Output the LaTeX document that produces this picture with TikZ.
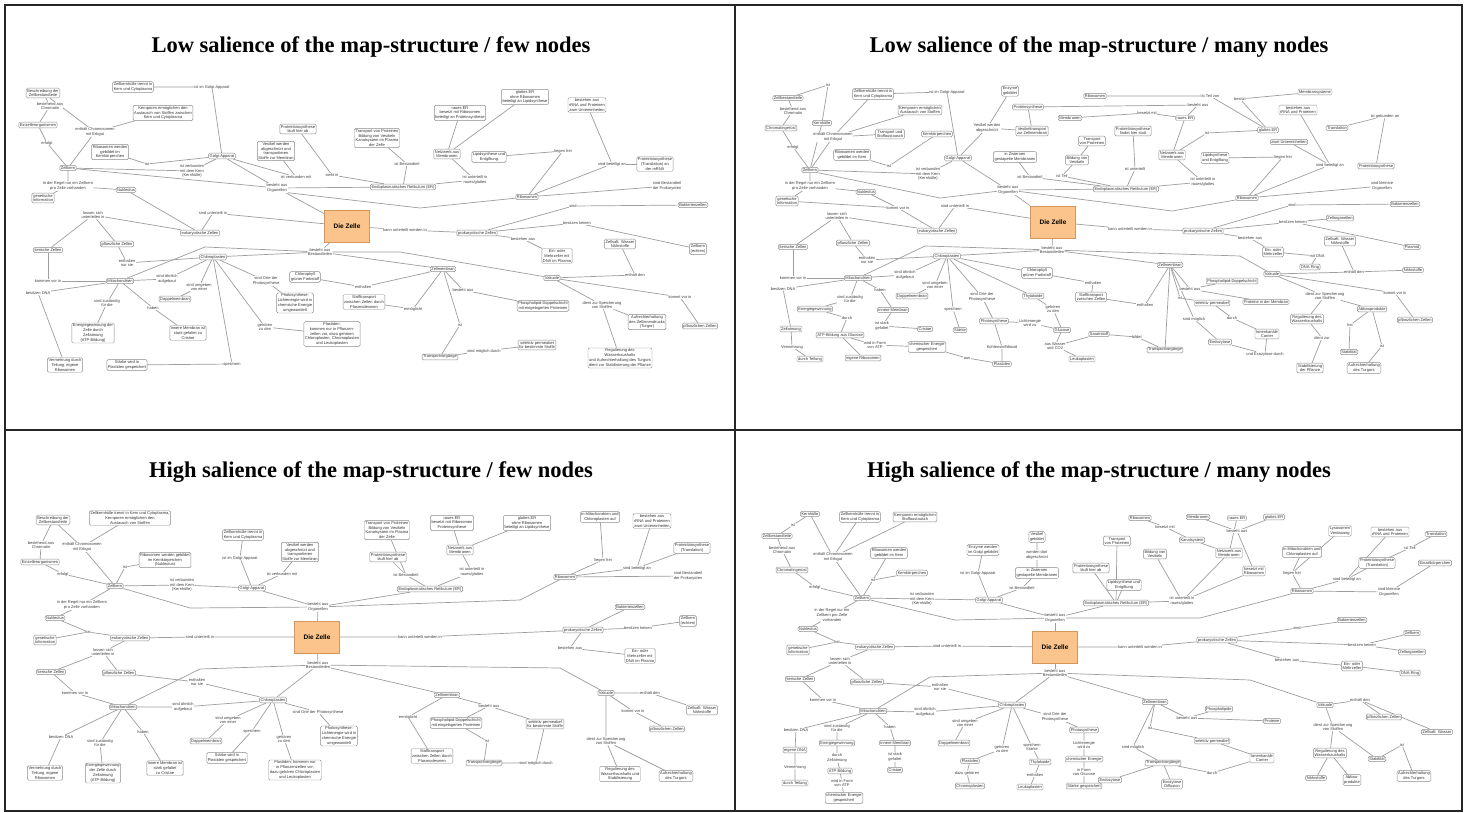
\documentclass[tikz,border=0pt]{standalone}
\usepackage{fontspec}
\newfontfamily\mapfamily{Liberation Sans}
\newfontfamily\ttlfamily{Liberation Serif}
\newcommand\cmfont{\mapfamily\fontsize{4.0}{4.7}\selectfont}
\newcommand\cmcore{\mapfamily\bfseries\fontsize{6.5}{7.5}\selectfont}
\newcommand\cmtitle{\ttlfamily\bfseries\fontsize{22.5}{25}\selectfont}
\definecolor{coreFill}{RGB}{250,196,140}
\definecolor{coreDraw}{RGB}{214,150,90}
\pgfdeclarelayer{paperlayer}
\pgfdeclarelayer{edgelayer}
\pgfsetlayers{paperlayer,edgelayer,main}
\tikzset{
 bx/.style={draw=black!45, line width=0.45pt, rounded corners=1.3pt, fill=white, inner sep=1.1pt, align=center, font=\cmfont, text=black!80},
 lb/.style={fill=white, inner sep=0.3pt, align=center, font=\cmfont, text=black!75},
 ln/.style={draw=black!38, line width=0.7pt},
 core/.style={draw=coreDraw, fill=coreFill, line width=0.6pt, minimum width=45pt, minimum height=32pt, font=\cmcore, inner sep=0pt},
 ttl/.style={font=\cmtitle, inner sep=0pt},
 frame/.style={draw=black!85, line width=1.2pt}
}
\newcommand\cmB[3]{\node[bx] (#1) at (#2) {#3};}
\newcommand\cmL[3]{\node[lb] (#1) at (#2) {#3};}
\begin{document}
\begin{tikzpicture}[x=1pt,y=-1pt]
\useasboundingbox (0,0) rectangle (1468,813);
\begin{pgfonlayer}{paperlayer}
\fill[white] (0,0) rectangle (1468,813);
\end{pgfonlayer}
\draw[frame] (5,5) rectangle (1462,811);
\draw[frame] (735,5) -- (735,811);
\draw[frame] (5,430) -- (1462,430);

% ================= PANEL 1 =================
\node[ttl] (t1) at (371,47) {Low salience of the map-structure / few nodes};
\cmB{a1}{43,93}{Beschreibung der\\Zellbestandteile}
\cmL{aL1}{50,106}{bestehend aus\\Chromatin}
\cmB{a2}{38,125}{Einzellerorganismen}
\cmL{aL2}{47,143}{erfolgt}
\cmB{aZK}{68,168}{Zellkern}
\cmL{aL3}{95,132}{enthält Chromosomen\\mit Erbgut}
\cmB{a4}{133,87}{Zellkernhülle trennt in\\Kern und Cytoplasma}
\cmL{aL4}{212,87}{ist im Golgi-Apparat}
\cmB{a5}{163,113}{Kernporen ermöglichen den\\Austausch von Stoffen zwischen\\Kern und Cytoplasma}
\cmB{a6}{110,152}{Ribosomen werden\\gebildet im\\Kernkörperchen}
\cmL{aL5}{147,164}{ist}
\cmB{aG}{222,156}{Golgi-Apparat}
\cmL{aL6}{192,171}{ist verbunden\\mit dem Kern\\(Kernhülle)}
\cmL{aL7}{68,186}{in der Regel nur ein Zellkern\\pro Zelle vorhanden}
\cmB{a8}{126,190}{Nukleolus}
\cmB{a9}{43,198}{genetische\\Information}
\cmB{a10}{298,129}{Proteinbiosynthese\\läuft hier ab}
\cmB{a11}{276,151}{Vesikel werden\\abgeschnürt und\\transportieren\\Stoffe zur Membran}
\cmB{a12}{377,138}{Transport von Proteinen\\Bildung von Vesikeln\\Kanalsystem im Plasma\\der Zelle}
\cmB{a13}{460,113}{raues ER\\besetzt mit Ribosomen\\beteiligt an Proteinsynthese}
\cmB{a14}{447,154}{Netzwerk aus\\Membranen}
\cmB{a15}{489,157}{Lipidsynthese und\\Entgiftung}
\cmB{aER}{403,187}{Endoplasmatisches Retikulum (ER)}
\cmL{aL8}{296,177}{ist verbunden mit}
\cmL{aL9}{332,175}{steht in}
\cmL{aL10}{407,164}{ist Bestandteil}
\cmL{aL11}{475,180}{ist unterteilt in\\raues/glattes}
\cmL{aL12}{277,188}{besteht aus\\Organellen}
\cmB{a16}{525,97}{glattes ER\\ohne Ribosomen\\beteiligt an Lipidsynthese}
\cmB{a17}{587,105}{bestehen aus\\rRNA und Proteinen\\zwei Untereinheiten}
\cmL{aL13}{563,151}{liegen frei}
\cmL{aL14}{612,164}{sind beteiligt an}
\cmB{a18}{655,164}{Proteinbiosynthese\\(Translation) an\\der mRNA}
\cmL{aL15}{667,186}{sind Bestandteil\\der Prokaryoten}
\cmB{aR}{527,197}{Ribosomen}
\cmB{a19}{693,205}{Bakterienzellen}
\cmL{aL16}{573,206}{sind}
\node[core] (aZ) at (347,226) {Die Zelle};
\cmL{aL17}{405,230}{kann unterteilt werden in}
\cmB{aP}{477,233}{prokaryotische Zellen}
\cmL{aL18}{577,223}{besitzen keinen}
\cmB{a20}{698,249}{Zellkern\\(echten)}
\cmL{aL19}{523,239}{bestehen aus}
\cmB{a21}{557,256}{Ein- oder\\Mehrzeller mit\\DNA im Plasma}
\cmB{a22}{620,244}{Zellsaft: Wasser\\Nährstoffe}
\cmL{aL20}{635,275}{enthält den}
\cmB{aV}{552,278}{Vakuole}
\cmL{aL21}{680,297}{kommt vor in}
\cmB{a23}{700,326}{pflanzlichen Zellen}
\cmL{aL22}{602,305}{dient zur Speicherung\\von Stoffen}
\cmB{a24}{543,306}{Phospholipid-Doppelschicht\\mit eingelagerten Proteinen}
\cmB{a25}{647,322}{Aufrechterhaltung\\des Zellinnendrucks\\(Turgor)}
\cmB{a26}{537,345}{selektiv permeabel\\für bestimmte Stoffe}
\cmB{a27}{620,358}{Regulierung des\\Wasserhaushalts\\und Aufrechterhaltung des Turgors\\dient zur Stabilisierung der Pflanze}
\cmL{aL25}{93,215}{lassen sich\\unterteilen in}
\cmL{aL26}{213,213}{sind unterteilt in}
\cmB{aE}{200,233}{eukaryotische Zellen}
\cmB{aT}{48,250}{tierische Zellen}
\cmB{aPf}{117,244}{pflanzliche Zellen}
\cmL{aL27}{127,263}{enthalten\\nur sie}
\cmB{aC}{213,257}{Chloroplasten}
\cmB{aM}{120,281}{Mitochondrien}
\cmL{aL28}{48,281}{kommen vor in}
\cmL{aL29}{38,293}{besitzen DNA}
\cmL{aL30}{167,279}{sind ähnlich\\aufgebaut}
\cmL{aL31}{199,287}{sind umgeben\\von einer}
\cmB{aD}{175,299}{Doppelmembran}
\cmL{aL32}{107,303}{sind zuständig\\für die}
\cmL{aL33}{153,308}{haben}
\cmB{a28}{93,333}{Energiegewinnung der\\Zelle durch\\Zellatmung\\(ATP-Bildung)}
\cmB{a29}{188,333}{innere Membran ist\\stark gefaltet zu\\Cristae}
\cmB{a30}{65,365}{Vermehrung durch\\Teilung, eigene\\Ribosomen}
\cmB{a31}{127,365}{Stärke wird in\\Plastiden gespeichert}
\cmL{aL34}{232,364}{speichern}
\cmL{aL35}{320,252}{besteht aus\\Bestandteilen}
\cmB{a32}{305,277}{Chlorophyll\\grüner Farbstoff}
\cmL{aL36}{363,287}{enthalten}
\cmL{aL37}{266,281}{sind Orte der\\Photosynthese}
\cmB{a33}{295,303}{Photosynthese:\\Lichtenergie wird in\\chemische Energie\\umgewandelt}
\cmB{a34}{364,302}{Stofftransport\\zwischen Zellen durch\\Plasmodesmen}
\cmL{aL38}{413,309}{ermöglicht}
\cmB{a35}{332,334}{Plastiden:\\kommen nur in Pflanzen-\\zellen vor, dazu gehören\\Chloroplasten, Chromoplasten\\und Leukoplasten}
\cmL{aL39}{265,327}{gehören\\zu den}
\cmB{aZM}{443,269}{Zellmembran}
\cmL{aL40}{463,290}{besteht aus}
\cmL{aL41}{460,325}{ist}
\cmB{a36}{440,357}{Transportvorgänge}
\cmL{aL42}{484,351}{sind möglich durch}
\begin{pgfonlayer}{edgelayer}
\draw[ln] (aZ)--(aL12);
\draw[ln] (aL12)--(aZK);
\draw[ln] (aL12)--(aG);
\draw[ln] (aL12)--(aER);
\draw[ln] (aL12.south east)--(420,208)--(aR);
\draw[ln] (aZK)--(aL2)--(a2)--(aL1)--(a1);
\draw[ln] (a1)--(aL3)--(aZK); \draw[ln] (aL3)--(a5);
\draw[ln] (a6)--(aL5)--(aG);
\draw[ln] (a4)--(aL4)--(aG);
\draw[ln] (aZK)--(aL6)--(aG);
\draw[ln] (aZK)--(aL7)--(a8); \draw[ln] (aL7)--(a9);
\draw[ln] (a8)--(aE);
\draw[ln] (aG)--(aL8)--(a11);
\draw[ln] (a10)--(aL9)--(aER);
\draw[ln] (a12)--(aL10)--(aER);
\draw[ln] (aER)--(aL11)--(a14)--(a13); \draw[ln] (a14)--(a16);
\draw[ln] (aR)--(aL13)--(a15);
\draw[ln] (aR)--(aL14)--(a17); \draw[ln] (aL14)--(a18); \draw[ln] (aR)--(aL15);
\draw[ln] (aZ)--(aL17)--(aP);
\draw[ln] (aP)--(aL16)--(a19);
\draw[ln] (aP)--(aL18)--(a20);
\draw[ln] (aP)--(aL19)--(a21);
\draw[ln] (aZ)--(aL35);
\draw[ln] (aL35)--(aC); \draw[ln] (aL35)--(aZM);
\draw[ln] (aL35)--(400,252)--(aV);
\draw[ln] (aL35)--(205,247)--(aM);
\draw[ln] (aE)--(aL25)--(aT); \draw[ln] (aL25)--(aPf);
\draw[ln] (aZ)--(aL26)--(aE);
\draw[ln] (aPf)--(aL27)--(aC);
\draw[ln] (aT)--(aL28)--(aM);
\draw[ln] (aM)--(aL29)--(a30);
\draw[ln] (aM)--(aL32)--(a28);
\draw[ln] (aM)--(aL33)--(a29);
\draw[ln] (aC)--(aL30)--(aM);
\draw[ln] (aC)--(aL31)--(aD);
\draw[ln] (aC)--(aL37)--(a33);
\draw[ln] (aC)--(aL39)--(a35);
\draw[ln] (aC)--(aL34)--(a31);
\draw[ln] (a32)--(aL36)--(aZM);
\draw[ln] (aZM)--(aL38)--(a34);
\draw[ln] (aZM)--(aL41)--(a36)--(aL42)--(a26);
\draw[ln] (aZM)--(aL40)--(a24);
\draw[ln] (aV)--(aL20)--(a22);
\draw[ln] (aV)--(aL21)--(a23);
\draw[ln] (aV)--(aL22)--(a25); \draw[ln] (aL22)--(a27);
\end{pgfonlayer}

% ================= PANEL 2 =================
\node[ttl] (t2) at (1099,47) {Low salience of the map-structure / many nodes};
\cmL{bq}{828,85}{ist}
\cmB{b1}{788,98}{Zellbestandteile}
\cmL{bL1}{793,111}{bestehend aus\\Chromatin}
\cmB{b2}{781,128}{Chromatingerüst}
\cmB{b3}{822,123}{Kernhülle}
\cmL{bL2}{793,147}{erfolgt}
\cmL{bL3}{833,137}{enthält Chromosomen\\mit Erbgut}
\cmB{b4}{873,94}{Zellkernhülle trennt in\\Kern und Cytoplasma}
\cmL{bL4}{947,92}{ist im Golgi-Apparat}
\cmB{b5}{920,110}{Kernporen ermöglichen\\Austausch von Stoffen}
\cmB{b6}{890,134}{Transport und\\Stoffaustausch}
\cmB{b7}{937,134}{Kernkörperchen}
\cmB{b8}{852,155}{Ribosomen werden\\gebildet im Kern}
\cmL{bL5}{889,166}{ist}
\cmB{bZK}{810,170}{Zellkern}
\cmB{bG}{958,158}{Golgi-Apparat}
\cmL{bL6}{928,174}{ist verbunden\\mit dem Kern\\(Kernhülle)}
\cmL{bL7}{810,186}{in der Regel nur ein Zellkern\\pro Zelle vorhanden}
\cmB{b9}{866,192}{Nukleolus}
\cmB{b10}{787,201}{genetische\\Information}
\cmL{bL8}{837,216}{lassen sich\\unterteilen in}
\cmL{bL9}{898,208}{kommt vor in}
\cmL{bL10}{955,206}{sind unterteilt in}
\cmB{bE}{937,231}{eukaryotische Zellen}
\cmB{bT}{793,247}{tierische Zellen}
\cmB{bPf}{853,243}{pflanzliche Zellen}
\node[core] (bZ) at (1053,222) {Die Zelle};
\cmL{bL11}{1008,190}{besteht aus\\Organellen}
\cmB{b11}{1010,91}{Enzyme\\gebildet}
\cmB{b12}{1028,107}{Proteinsynthese}
\cmB{b13}{1070,118}{Membranen}
\cmL{bL12}{987,128}{Vesikel werden\\abgeschnürt}
\cmB{b14}{1032,131}{Vesikeltransport\\zur Zellmembran}
\cmB{b15}{1015,157}{in Zisternen\\gestapelte Membranen}
\cmL{bL13}{1030,177}{ist Bestandteil}
\cmB{b16}{1092,141}{Transport\\von Proteinen}
\cmB{b17}{1077,160}{Bildung von\\Vesikeln}
\cmL{bL14}{1062,176}{ist Teil}
\cmL{bL15}{1052,250}{besteht aus\\Bestandteilen}
\cmB{bR0}{1095,96}{Ribosomen}
\cmL{bL16}{1210,96}{ist Teil von}
\cmL{bL17}{1240,99}{besitzt}
\cmB{b18}{1315,92}{Membransysteme}
\cmL{bL18}{1198,105}{besteht aus}
\cmL{bL19}{1147,113}{besetzt mit}
\cmB{b19}{1185,118}{raues ER}
\cmB{b20}{1133,131}{Proteinbiosynthese\\findet hier statt}
\cmB{b21}{1268,130}{glattes ER}
\cmB{b22}{1298,110}{bestehen aus\\rRNA und Proteinen}
\cmB{b23}{1289,142}{zwei Untereinheiten}
\cmL{bL20}{1207,133}{ist}
\cmB{b24}{1172,155}{Netzwerk aus\\Membranen}
\cmB{b25}{1215,158}{Lipidsynthese\\und Entgiftung}
\cmL{bL21}{1283,157}{liegen frei}
\cmL{bL22}{1135,169}{ist unterteilt}
\cmL{bL23}{1330,165}{sind beteiligt an}
\cmB{b26}{1337,128}{Translation}
\cmL{bL24}{1385,116}{ist gebunden an}
\cmB{b27}{1376,166}{Proteinbiosynthese}
\cmL{bL25}{1203,182}{ist unterteilt in\\raues/glattes}
\cmB{bER}{1126,189}{Endoplasmatisches Retikulum (ER)}
\cmL{bL26}{1382,186}{sind kleinste\\Organellen}
\cmB{bR}{1247,198}{Ribosomen}
\cmL{bL27}{1292,205}{sind}
\cmB{b28}{1405,204}{Bakterienzellen}
\cmL{bL28}{1130,229}{kann unterteilt werden in}
\cmB{bP}{1203,231}{prokaryotische Zellen}
\cmL{bL29}{1293,222}{besitzen keinen}
\cmB{b29}{1340,218}{Zellorganellen}
\cmB{b30}{1412,247}{Plasmid}
\cmL{bL30}{1250,238}{bestehen aus}
\cmB{b31}{1273,252}{Ein- oder\\Mehrzeller}
\cmB{b32}{1340,241}{Zellsaft: Wasser\\Nährstoffe}
\cmL{bL31}{1317,256}{mit DNA}
\cmB{b33}{1310,267}{DNA-Ring}
\cmB{bV}{1272,274}{Vakuole}
\cmL{bL32}{1354,272}{enthält den}
\cmB{b34}{1413,270}{Nährstoffe}
\cmB{bZM}{1170,265}{Zellmembran}
\cmB{b35}{1232,281}{Phospholipid-Doppelschicht}
\cmL{bL33}{1190,289}{besteht aus}
\cmL{bL34}{1180,298}{ist}
\cmB{b36}{1212,303}{selektiv permeabel}
\cmB{b37}{1266,302}{Proteine in der Membran}
\cmL{bL35}{1325,296}{dient zur Speicherung\\von Stoffen}
\cmL{bL36}{1395,293}{kommt vor in}
\cmB{b38}{1372,309}{Abbauprodukte}
\cmB{b39}{1307,319}{Regulierung des\\Wasserhaushalts}
\cmB{b40}{1415,320}{pflanzlichen Zellen}
\cmL{bL37}{1145,305}{enthalten}
\cmL{bL38}{1194,319}{sind möglich}
\cmL{bL39}{1232,318}{durch}
\cmB{b41}{1267,334}{Ionenkanäle\\Carrier}
\cmL{bL40}{1350,325}{hat}
\cmL{bL41}{1382,346}{ist}
\cmL{bL42}{1137,337}{bildet}
\cmB{b42}{1165,350}{Transportvorgänge}
\cmB{b43}{1220,342}{Endozytose}
\cmL{bL43}{1265,354}{und Exozytose durch}
\cmL{bL44}{1322,338}{dient zur}
\cmB{b44}{1349,352}{Stabilität}
\cmB{b45}{1310,368}{Stabilisierung\\der Pflanze}
\cmB{b46}{1364,368}{Aufrechterhaltung\\des Turgors}
\cmL{bL45}{867,260}{enthalten\\nur sie}
\cmB{bC}{947,256}{Chloroplasten}
\cmB{bM}{858,278}{Mitochondrien}
\cmL{bL46}{793,278}{kommen vor in}
\cmL{bL47}{783,289}{besitzen DNA}
\cmL{bL48}{905,275}{sind ähnlich\\aufgebaut}
\cmL{bL49}{935,285}{sind umgeben\\von einer}
\cmB{bD}{912,296}{Doppelmembran}
\cmL{bL50}{850,299}{sind zuständig\\für die}
\cmL{bL51}{880,290}{haben}
\cmB{b47}{815,309}{Energiegewinnung}
\cmB{b48}{893,310}{innere Membran}
\cmL{bL52}{953,309}{speichern}
\cmL{bL53}{982,297}{sind Orte der\\Photosynthese}
\cmB{b49}{1033,296}{Thylakoide}
\cmB{b50}{1037,273}{Chlorophyll\\grüner Farbstoff}
\cmL{bL54}{1093,283}{enthalten}
\cmL{bL55}{1053,309}{gehören\\zu den}
\cmB{b51}{1091,297}{Stofftransport\\zwischen Zellen}
\cmL{bL56}{847,318}{durch}
\cmL{bL57}{882,326}{ist stark\\gefaltet}
\cmB{b52}{925,329}{Cristae}
\cmB{b53}{791,329}{Zellatmung}
\cmB{b54}{840,335}{ATP-Bildung aus Glucose}
\cmB{b55}{960,330}{Stärke}
\cmB{b56}{994,321}{Photosynthese}
\cmL{bL58}{1030,323}{Lichtenergie\\wird zu}
\cmB{b57}{1062,330}{Glucose}
\cmL{bL59}{875,345}{wird in Form\\von ATP}
\cmB{b58}{927,347}{chemischer Energie\\gespeichert}
\cmL{bL60}{792,347}{Vermehrung}
\cmL{bL61}{1002,347}{Kohlenstoffdioxid}
\cmL{bL62}{1055,346}{aus Wasser\\und CO2}
\cmB{b59}{1099,334}{Sauerstoff}
\cmB{b60}{810,359}{durch Teilung}
\cmB{b61}{863,358}{eigene Ribosomen}
\cmL{bL63}{967,358}{aus}
\cmB{b62}{1002,364}{Plastiden}
\cmB{b63}{1082,359}{Leukoplasten}
\begin{pgfonlayer}{edgelayer}
\draw[ln] (b1)--(bq)--(b3)--(bZK);
\draw[ln] (bZK)--(bL2)--(b2)--(bL1)--(b1);
\draw[ln] (bZK)--(bL3)--(b4); \draw[ln] (bL3)--(b6); \draw[ln] (bL3)--(b5);
\draw[ln] (b4)--(bL4)--(bG);
\draw[ln] (b8)--(bL5)--(b7);
\draw[ln] (bZK)--(bL6)--(bG);
\draw[ln] (bZK)--(bL7)--(b9); \draw[ln] (bL7)--(b10);
\draw[ln] (b10)--(bL9)--(bE); \draw[ln] (b9)--(bL9);
\draw[ln] (bT)--(bL8)--(bPf); \draw[ln] (bL8)--(bE);
\draw[ln] (bE)--(bL10)--(bZ);
\draw[ln] (bZ)--(bL11);
\draw[ln] (bZK.south east)--(940,198)--(bL11);
\draw[ln] (bL11)--(bG);
\draw[ln] (bL11)--(bER);
\draw[ln] (bL11)--(1172,211)--(bR);
\draw[ln] (b11)--(bL12)--(bG);
\draw[ln] (b15)--(bL13)--(bER);
\draw[ln] (b12)--(b14)--(bL12);
\draw[ln] (b17)--(bL14)--(bER); \draw[ln] (b16)--(b17);
\draw[ln] (b12)--(bL18)--(b19);
\draw[ln] (bR0)--(bL16)--(b21);
\draw[ln] (b18)--(bL17)--(b21);
\draw[ln] (b13)--(bL19)--(b19);
\draw[ln] (b19)--(b24)--(bL20)--(b21);
\draw[ln] (b20)--(bL22)--(bER);
\draw[ln] (bER)--(bL25)--(b24);
\draw[ln] (b25)--(bL21)--(bR);
\draw[ln] (b22)--(bL23); \draw[ln] (b23)--(bL23)--(bR);
\draw[ln] (b26)--(bL24)--(b27);
\draw[ln] (bR)--(bL26);
\draw[ln] (bZ)--(bL28)--(bP);
\draw[ln] (bP)--(bL27)--(b28);
\draw[ln] (bP)--(bL29)--(b29); \draw[ln] (bL29)--(b30);
\draw[ln] (bP)--(bL30)--(b31)--(bL31)--(b33);
\draw[ln] (b32)--(bL32); \draw[ln] (bV)--(bL32)--(b34);
\draw[ln] (bV)--(bL36)--(b40);
\draw[ln] (bV)--(bL35)--(b39); \draw[ln] (bL35)--(b38);
\draw[ln] (b39)--(bL44)--(b45);
\draw[ln] (b38)--(bL40)--(b44); \draw[ln] (b38)--(bL41)--(b46);
\draw[ln] (bZ)--(bL15);
\draw[ln] (bL15)--(1240,256)--(bV);
\draw[ln] (bL15)--(bZM);
\draw[ln] (bZM)--(bL33)--(b35); \draw[ln] (bL33)--(b37);
\draw[ln] (bZM)--(bL34)--(b36);
\draw[ln] (bZM)--(bL37); \draw[ln] (bZM)--(b42);
\draw[ln] (bZM)--(bL38)--(b43);
\draw[ln] (b36)--(bL39)--(b41);
\draw[ln] (b43)--(bL43)--(b41);
\draw[ln] (b59)--(bL42)--(b42);
\draw[ln] (bL37)--(b51);
\draw[ln] (bL15)--(bC);
\draw[ln] (bL15)--(925,246)--(bM);
\draw[ln] (bPf)--(bL45)--(bC);
\draw[ln] (bT)--(bL46)--(bM);
\draw[ln] (bM)--(bL47)--(b53);
\draw[ln] (b53)--(bL60)--(b60);
\draw[ln] (bM)--(bL50)--(b47)--(bL56)--(b54);
\draw[ln] (bM)--(bL51)--(b48)--(bL57)--(b52);
\draw[ln] (b54)--(bL59)--(b58);
\draw[ln] (bM)--(bL48)--(bC);
\draw[ln] (bC)--(bL49)--(bD);
\draw[ln] (bC)--(bL52)--(b55);
\draw[ln] (bC)--(bL53)--(b56);
\draw[ln] (bC)--(b49);
\draw[ln] (bC)--(b50)--(bL54)--(b51);
\draw[ln] (b49)--(bL55)--(b57);
\draw[ln] (b56)--(bL58)--(b57);
\draw[ln] (b56)--(bL61)--(b62);
\draw[ln] (b58)--(bL63)--(b62);
\draw[ln] (b54)--(b61);
\draw[ln] (b57)--(bL62)--(b63); \draw[ln] (bL62)--(b59);
\end{pgfonlayer}

% ================= PANEL 3 =================
\node[ttl] (t3) at (371,472) {High salience of the map-structure / few nodes};
\cmB{c1}{53,520}{Beschreibung der\\Zellbestandteile}
\cmB{c2}{130,518}{Zellkernhülle trennt in Kern und Cytoplasma,\\Kernporen ermöglichen den\\Austausch von Stoffen}
\cmL{cL1}{41,545}{bestehend aus\\Chromatin}
\cmL{cL2}{82,547}{enthält Chromosomen\\mit Erbgut}
\cmB{c3}{40,562}{Einzellerorganismen}
\cmB{c4}{165,560}{Ribosomen werden gebildet\\im Kernkörperchen\\(Nukleolus)}
\cmL{cL3}{125,567}{ist}
\cmL{cL4}{63,574}{erfolgt}
\cmB{cZK}{115,586}{Zellkern}
\cmL{cL5}{182,585}{ist verbunden\\mit dem Kern\\(Kernhülle)}
\cmB{cG}{252,588}{Golgi-Apparat}
\cmB{c5}{243,535}{Zellkernhülle trennt in\\Kern und Cytoplasma}
\cmL{cL6}{240,558}{ist im Golgi-Apparat}
\cmB{c6}{300,552}{Vesikel werden\\abgeschnürt und\\transportieren\\Stoffe zur Membran}
\cmL{cL7}{282,574}{ist verbunden mit}
\cmL{cL8}{82,605}{in der Regel nur ein Zellkern\\pro Zelle vorhanden}
\cmL{cL9}{318,607}{besteht aus\\Organellen}
\cmB{c7}{55,618}{Nukleolus}
\cmB{c8}{45,640}{genetische\\Information}
\cmL{cL10}{88,632}{hat}
\cmB{cE}{130,638}{eukaryotische Zellen}
\cmL{cL11}{200,637}{sind unterteilt in}
\node[core] (cZ) at (317,637) {Die Zelle};
\cmL{cL12}{103,652}{lassen sich\\unterteilen in}
\cmB{cT}{51,672}{tierische Zellen}
\cmB{cPf}{119,673}{pflanzliche Zellen}
\cmL{cL13}{197,682}{enthalten\\nur sie}
\cmL{cL14}{318,665}{besteht aus\\Bestandteilen}
\cmL{cL15}{75,693}{kommen vor in}
\cmB{cM}{123,707}{Mitochondrien}
\cmL{cL16}{183,707}{sind ähnlich\\aufgebaut}
\cmB{cC}{273,700}{Chloroplasten}
\cmL{cL17}{228,720}{sind umgeben\\von einer}
\cmL{cL18}{318,712}{sind Orte der Photosynthese}
\cmL{cL19}{61,737}{besitzen DNA}
\cmL{cL20}{100,743}{sind zuständig\\für die}
\cmL{cL21}{143,732}{haben}
\cmL{cL22}{252,731}{speichern}
\cmL{cL23}{284,739}{gehören\\zu den}
\cmB{cD}{206,741}{Doppelmembran}
\cmB{c9}{339,736}{Photosynthese:\\Lichtenergie wird in\\chemische Energie\\umgewandelt}
\cmB{c10}{227,758}{Stärke wird in\\Plastiden gespeichert}
\cmB{c11}{45,773}{Vermehrung durch\\Teilung, eigene\\Ribosomen}
\cmB{c12}{103,773}{Energiegewinnung\\der Zelle durch\\Zellatmung\\(ATP-Bildung)}
\cmB{c13}{165,768}{innere Membran ist\\stark gefaltet\\zu Cristae}
\cmB{c14}{295,770}{Plastiden: kommen nur\\in Pflanzenzellen vor,\\dazu gehören Chloroplasten\\und Leukoplasten}
\cmB{c15}{387,530}{Transport von Proteinen\\Bildung von Vesikeln\\Kanalsystem im Plasma\\der Zelle}
\cmB{c16}{452,523}{raues ER\\besetzt mit Ribosomen\\Proteinsynthese}
\cmB{c17}{527,523}{glattes ER\\ohne Ribosomen\\beteiligt an Lipidsynthese}
\cmB{c18}{600,517}{in Mitochondrien und\\Chloroplasten auf}
\cmB{c19}{652,521}{bestehen aus\\rRNA und Proteinen\\zwei Untereinheiten}
\cmB{c20}{692,548}{Proteinbiosynthese\\(Translation)}
\cmB{c21}{460,550}{Netzwerk aus\\Membranen}
\cmB{c22}{388,557}{Proteinbiosynthese\\läuft hier ab}
\cmL{cLa}{406,575}{ist Bestandteil}
\cmL{cLb}{472,572}{ist unterteilt in\\raues/glattes}
\cmB{cER}{430,589}{Endoplasmatisches Retikulum (ER)}
\cmB{cR}{565,577}{Ribosomen}
\cmL{cLc}{603,560}{liegen frei}
\cmL{cLd}{637,568}{sind beteiligt an}
\cmL{cLe}{688,576}{sind Bestandteil\\der Prokaryoten}
\cmL{cLf}{420,637}{kann unterteilt werden in}
\cmB{cP}{583,630}{prokaryotische Zellen}
\cmB{c23}{630,607}{Bakterienzellen}
\cmL{cLg}{638,628}{besitzen keinen}
\cmB{c24}{688,621}{Zellkern\\(echten)}
\cmL{cLh}{570,648}{bestehen aus}
\cmB{c25}{640,656}{Ein- oder\\Mehrzeller mit\\DNA im Plasma}
\cmB{cZM}{447,695}{Zellmembran}
\cmL{cLi}{489,706}{besteht aus}
\cmB{c26}{456,723}{Phospholipid-Doppelschicht\\mit eingelagerten Proteinen}
\cmL{cLj}{408,717}{ermöglicht}
\cmB{c27}{432,756}{Stofftransport\\zwischen Zellen durch\\Plasmodesmen}
\cmL{cLk}{487,741}{ist}
\cmB{c28}{545,724}{selektiv permeabel\\für bestimmte Stoffe}
\cmB{c29}{484,763}{Transportvorgänge}
\cmL{cLl}{536,763}{sind möglich durch}
\cmB{cV}{606,693}{Vakuole}
\cmL{cLm}{650,693}{enthält den}
\cmB{c31}{702,710}{Zellsaft: Wasser\\Nährstoffe}
\cmL{cLn}{633,711}{kommt vor in}
\cmB{c32}{667,729}{pflanzlichen Zellen}
\cmL{cLo}{606,741}{dient zur Speicherung\\von Stoffen}
\cmB{c33}{620,774}{Regulierung des\\Wasserhaushalts und\\Stabilisierung}
\cmB{c34}{676,776}{Aufrechterhaltung\\des Turgors}
\begin{pgfonlayer}{edgelayer}
\draw[ln] (cZ)--(cL9);
\draw[ln] (cL9)--(190,608)--(cZK);
\draw[ln] (cL9)--(cG);
\draw[ln] (cL9)--(cER);
\draw[ln] (cL9)--(520,600)--(cR);
\draw[ln] (cZK)--(cL4)--(c3)--(cL1)--(c1)--(cL2)--(cZK); \draw[ln] (cL2)--(c2);
\draw[ln] (cZK)--(cL3)--(c4);
\draw[ln] (cZK)--(cL5)--(cG);
\draw[ln] (c5)--(cL6)--(cG);
\draw[ln] (c6)--(cL7)--(cG);
\draw[ln] (cZK)--(cL8)--(c7)--(cL10)--(cE); \draw[ln] (c8)--(cL10);
\draw[ln] (cE)--(cL11)--(cZ);
\draw[ln] (cE)--(cL12)--(cT); \draw[ln] (cL12)--(cPf);
\draw[ln] (cPf)--(cL13)--(cC);
\draw[ln] (cT)--(cL15)--(cM);
\draw[ln] (cZ)--(cL14);
\draw[ln] (cL14)--(200,669)--(cM);
\draw[ln] (cL14)--(cC);
\draw[ln] (cL14)--(cZM);
\draw[ln] (cL14)--(560,668)--(cV);
\draw[ln] (cM)--(cL16)--(cC);
\draw[ln] (cC)--(cL17)--(cD);
\draw[ln] (cC)--(cL18)--(c9);
\draw[ln] (cC)--(cL22)--(c10);
\draw[ln] (cC)--(cL23)--(c14);
\draw[ln] (cM)--(cL19)--(c11);
\draw[ln] (cM)--(cL20)--(c12);
\draw[ln] (cM)--(cL21)--(c13);
\draw[ln] (c15)--(cLa)--(cER); \draw[ln] (c22)--(cLa);
\draw[ln] (cER)--(cLb)--(c21)--(c16); \draw[ln] (c21)--(c17);
\draw[ln] (cR)--(cLc)--(c18);
\draw[ln] (cR)--(cLd)--(c19); \draw[ln] (cLd)--(c20);
\draw[ln] (cR)--(cLe);
\draw[ln] (cZ)--(cLf)--(cP);
\draw[ln] (cP)--(c23);
\draw[ln] (cP)--(cLg)--(c24);
\draw[ln] (cP)--(cLh)--(c25);
\draw[ln] (cZM)--(cLi)--(c26); \draw[ln] (cLi)--(c28);
\draw[ln] (cZM)--(cLj)--(c27);
\draw[ln] (c26)--(cLk)--(c29)--(cLl)--(c28);
\draw[ln] (cV)--(cLm)--(c31);
\draw[ln] (cV)--(cLn)--(c32);
\draw[ln] (cV)--(cLo)--(c33); \draw[ln] (cLo)--(c34);
\end{pgfonlayer}

% ================= PANEL 4 =================
\node[ttl] (t4) at (1099,472) {High salience of the map-structure / many nodes};
\cmB{d1}{810,514}{Kernhülle}
\cmB{d2}{860,517}{Zellkernhülle trennt in\\Kern und Cytoplasma}
\cmB{d3}{915,517}{Kernporen ermöglichen\\Stoffaustausch}
\cmL{dq}{793,525}{ist}
\cmB{d4}{777,536}{Zellbestandteile}
\cmL{dL1}{782,550}{bestehend aus\\Chromatin}
\cmB{d5}{792,570}{Chromatingerüst}
\cmL{dL2}{833,557}{enthält Chromosomen\\mit Erbgut}
\cmB{d6}{889,553}{Ribosomen werden\\gebildet im Kern}
\cmL{dL3}{873,580}{ist}
\cmB{d7}{912,573}{Kernkörperchen}
\cmL{dL4}{815,587}{erfolgt}
\cmB{dZK}{862,598}{Zellkern}
\cmL{dL5}{922,599}{ist verbunden\\mit dem Kern\\(Kernhülle)}
\cmB{dG}{989,600}{Golgi-Apparat}
\cmB{d8}{983,550}{Enzyme werden\\im Golgi gebildet}
\cmL{dL6}{978,573}{ist im Golgi-Apparat}
\cmB{d9}{1037,537}{Vesikel\\gebildet}
\cmL{dL7}{1037,555}{werden dort\\abgeschnürt}
\cmB{d10}{1037,573}{in Zisternen\\gestapelte Membranen}
\cmL{dL8}{1022,588}{ist Bestandteil}
\cmL{dL9}{1055,618}{besteht aus\\Organellen}
\cmL{dL10}{832,615}{in der Regel nur ein\\Zellkern pro Zelle\\vorhanden}
\cmB{d11}{808,629}{Nukleolus}
\cmB{d12}{798,650}{genetische\\Information}
\cmL{dL11}{837,642}{hat}
\cmB{dE}{875,647}{eukaryotische Zellen}
\cmL{dL12}{947,646}{sind unterteilt in}
\node[core] (dZ) at (1055,647) {Die Zelle};
\cmL{dL13}{840,661}{lassen sich\\unterteilen in}
\cmL{dL14}{1055,673}{besteht aus\\Bestandteilen}
\cmB{dT}{800,679}{tierische Zellen}
\cmB{dPf}{867,682}{pflanzliche Zellen}
\cmL{dL15}{940,687}{enthalten\\nur sie}
\cmL{dL16}{823,700}{kommen vor in}
\cmB{dM}{873,711}{Mitochondrien}
\cmL{dL17}{925,712}{sind ähnlich\\aufgebaut}
\cmB{dC}{1012,705}{Chloroplasten}
\cmL{dL18}{1055,717}{sind Orte der\\Photosynthese}
\cmB{d13}{1084,730}{Photosynthese}
\cmL{dL19}{1084,745}{Lichtenergie\\wird zu}
\cmB{d14}{1084,759}{chemischer Energie}
\cmL{dL20}{1084,772}{in Form\\von Glucose}
\cmB{d15}{1084,786}{Stärke gespeichert}
\cmL{dL21}{796,730}{besitzen DNA}
\cmL{dL22}{837,728}{sind zuständig\\für die}
\cmL{dL23}{890,727}{haben}
\cmB{d16}{837,743}{Energiegewinnung}
\cmB{d17}{895,743}{innere Membran}
\cmB{d18}{954,743}{Doppelmembran}
\cmB{d19}{795,750}{eigene DNA}
\cmL{dL24}{965,723}{sind umgeben\\von einer}
\cmL{dL26}{1002,749}{gehören\\zu den}
\cmL{dL27}{1032,747}{speichern\\Stärke}
\cmB{d20}{970,761}{Plastiden}
\cmB{d21}{1040,762}{Thylakoide}
\cmL{dL28}{795,767}{Vermehrung}
\cmL{dL29}{837,758}{durch\\Zellatmung}
\cmL{dL30}{895,757}{ist stark\\gefaltet}
\cmB{d22}{840,771}{ATP-Bildung}
\cmB{d23}{895,770}{Cristae}
\cmB{d24}{795,783}{durch Teilung}
\cmL{dL31}{842,783}{wird in Form\\von ATP}
\cmB{d25}{844,798}{chemischer Energie\\gespeichert}
\cmB{d26}{970,786}{Chromoplasten}
\cmB{d27}{1030,787}{Leukoplasten}
\cmL{dL32}{967,773}{dazu gehören}
\cmL{dL33}{1035,775}{enthalten}
\cmB{dt1}{1140,518}{Ribosomen}
\cmB{dt2}{1198,517}{Membranen}
\cmB{dt3}{1237,518}{raues ER}
\cmB{dt4}{1274,517}{glattes ER}
\cmB{dt5}{1340,531}{Lysosomen\\Verdauung}
\cmB{dt6}{1390,532}{bestehen aus\\rRNA und Proteinen}
\cmB{dt7}{1436,534}{Translation}
\cmB{d31}{1117,541}{Transport\\von Proteinen}
\cmB{d32}{1155,554}{Bildung von\\Vesikeln}
\cmB{d33}{1192,540}{Kanalsystem}
\cmB{d34}{1229,553}{Netzwerk aus\\Membranen}
\cmB{d35}{1091,568}{Proteinbiosynthese\\läuft hier ab}
\cmB{d36}{1124,585}{Lipidsynthese und\\Entgiftung}
\cmB{d37}{1254,571}{besetzt mit\\Ribosomen}
\cmB{d38}{1302,552}{in Mitochondrien und\\Chloroplasten auf}
\cmB{d39}{1377,563}{Proteinbiosynthese\\(Translation)}
\cmB{d40}{1435,563}{Einzelkörperchen}
\cmB{dER}{1116,603}{Endoplasmatisches Retikulum (ER)}
\cmB{dR}{1302,591}{Ribosomen}
\cmL{dLa}{1182,601}{ist unterteilt in\\raues/glattes}
\cmL{dLb}{1237,531}{besteht aus}
\cmL{dLc}{1292,573}{liegen frei}
\cmL{dLd}{1347,579}{sind beteiligt an}
\cmL{dLe}{1389,592}{sind kleinste\\Organellen}
\cmL{dLf}{1165,527}{besetzt mit}
\cmL{dLg}{1410,548}{ist Teil}
\cmL{dL34}{1140,647}{kann unterteilt werden in}
\cmB{dP}{1217,640}{prokaryotische Zellen}
\cmL{dLh}{1297,628}{sind}
\cmB{d41}{1352,620}{Bakterienzellen}
\cmL{dLi}{1362,645}{besitzen keinen}
\cmB{d42}{1412,633}{Zellkern}
\cmB{d43}{1412,652}{Zellorganellen}
\cmL{dLj}{1287,660}{bestehen aus}
\cmB{d44}{1352,666}{Ein- oder\\Mehrzeller}
\cmB{d45}{1410,673}{DNA-Ring}
\cmB{dZM}{1155,702}{Zellmembran}
\cmL{dLk}{1187,718}{besteht aus}
\cmB{d47}{1219,709}{Phospholipide}
\cmB{d48}{1272,721}{Proteine}
\cmL{dLl}{1150,728}{ist}
\cmB{d49}{1212,741}{selektiv permeabel}
\cmB{d50}{1262,758}{Ionenkanäle\\Carrier}
\cmL{dLm}{1133,747}{sind möglich}
\cmB{d51}{1163,763}{Transportvorgänge}
\cmB{d52}{1110,780}{Endozytose}
\cmB{d53}{1172,784}{Exozytose\\Diffusion}
\cmL{dLn}{1212,773}{durch}
\cmB{dV}{1325,705}{Vakuole}
\cmL{dLo}{1360,700}{enthält den}
\cmB{d54}{1384,717}{pflanzlichen Zellen}
\cmB{d55}{1437,732}{Zellsaft: Wasser}
\cmL{dLp}{1333,727}{dient zur Speicherung\\von Stoffen}
\cmB{d56}{1330,753}{Regulierung des\\Wasserhaushalts}
\cmB{d57}{1377,759}{Stabilität}
\cmL{dLq}{1402,745}{ist}
\cmB{d58}{1414,776}{Aufrechterhaltung\\des Turgors}
\cmB{d59}{1316,778}{Nährstoffe}
\cmB{d60}{1352,780}{Abbau-\\produkte}
\begin{pgfonlayer}{edgelayer}
\draw[ln] (dZ)--(dL9);
\draw[ln] (dL9)--(955,620)--(dZK);
\draw[ln] (dL9)--(dG);
\draw[ln] (dL9)--(dER);
\draw[ln] (dL9)--(1200,618)--(dR);
\draw[ln] (dZK)--(dL4)--(d5)--(dL1)--(d4)--(dq)--(d1);
\draw[ln] (d1)--(dL2)--(dZK); \draw[ln] (d2)--(dL2); \draw[ln] (d3)--(dL2);
\draw[ln] (dZK)--(dL3)--(d6); \draw[ln] (dL3)--(d7);
\draw[ln] (dZK)--(dL5)--(dG);
\draw[ln] (d8)--(dL6)--(dG);
\draw[ln] (d9)--(dL7)--(d10)--(dL8)--(dG);
\draw[ln] (dZK)--(dL10)--(d11)--(dL11)--(dE); \draw[ln] (d12)--(dL11);
\draw[ln] (dE)--(dL12)--(dZ);
\draw[ln] (dE)--(dL13)--(dT); \draw[ln] (dL13)--(dPf);
\draw[ln] (dPf)--(dL15)--(dC);
\draw[ln] (dT)--(dL16)--(dM);
\draw[ln] (dZ)--(dL14);
\draw[ln] (dL14)--(930,677)--(dM);
\draw[ln] (dL14)--(dC);
\draw[ln] (dL14)--(dZM);
\draw[ln] (dL14)--(1250,680)--(dV);
\draw[ln] (dM)--(dL17)--(dC);
\draw[ln] (dC)--(dL18)--(d13)--(dL19)--(d14)--(dL20)--(d15);
\draw[ln] (dM)--(dL21)--(d19)--(dL28)--(d24);
\draw[ln] (dM)--(dL22)--(d16)--(dL29)--(d22)--(dL31)--(d25);
\draw[ln] (dM)--(dL23)--(d17)--(dL30)--(d23);
\draw[ln] (dC)--(dL24)--(d18);
\draw[ln] (dC)--(dL26)--(d20)--(dL32)--(d26);
\draw[ln] (dC)--(dL27)--(d21)--(dL33)--(d27);
\draw[ln] (dER)--(dLa)--(d34);
\draw[ln] (d31)--(dER); \draw[ln] (d35)--(dER); \draw[ln] (d36)--(dER);
\draw[ln] (dt1)--(dLf)--(d33)--(d34);
\draw[ln] (d32)--(dLa);
\draw[ln] (dt2)--(dLb)--(dt4); \draw[ln] (dLb)--(d37); \draw[ln] (dt3)--(d34);
\draw[ln] (d37)--(dLa);
\draw[ln] (d38)--(dLc)--(dR); \draw[ln] (dt5)--(dLc);
\draw[ln] (dt6)--(dLd)--(dR); \draw[ln] (d39)--(dLd);
\draw[ln] (dt7)--(dLg)--(d39);
\draw[ln] (dR)--(dLe)--(d40);
\draw[ln] (dZ)--(dL34)--(dP);
\draw[ln] (dP)--(dLh)--(d41);
\draw[ln] (dP)--(dLi)--(d42); \draw[ln] (dLi)--(d43);
\draw[ln] (dP)--(dLj)--(d44)--(d45);
\draw[ln] (dZM)--(dLk)--(d47); \draw[ln] (dLk)--(d48);
\draw[ln] (dZM)--(dLl)--(d49)--(d50);
\draw[ln] (dZM)--(dLm)--(d51)--(d52); \draw[ln] (d51)--(d53);
\draw[ln] (d51)--(dLn)--(d50);
\draw[ln] (dV)--(dLo)--(d54); \draw[ln] (dLo)--(d55);
\draw[ln] (dV)--(dLp)--(d56); \draw[ln] (dLp)--(d57)--(dLq)--(d58);
\draw[ln] (d56)--(d59); \draw[ln] (d56)--(d60);
\end{pgfonlayer}
\end{tikzpicture}
\end{document}
